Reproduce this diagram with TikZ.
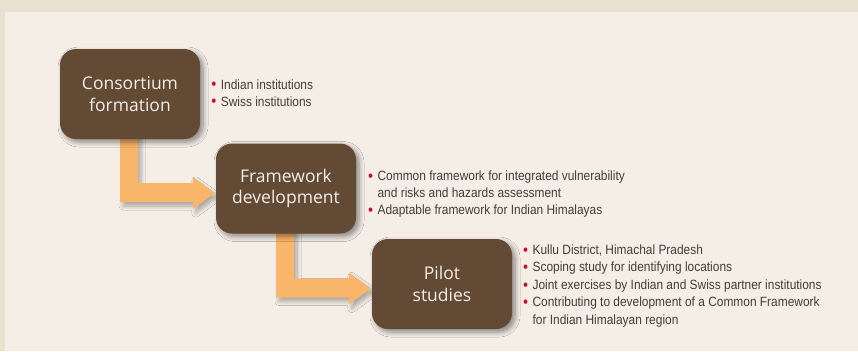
\documentclass[tikz,border=0pt]{standalone}
\usepackage{fontspec}
\setmainfont{Open Sans}
\newfontfamily\bulfont[FakeStretch=0.89]{Liberation Sans}
\usetikzlibrary{calc,shadows.blur}
\definecolor{outerbg}{HTML}{E9E1D0}
\definecolor{innerbg}{HTML}{F5EEE7}
\definecolor{boxc}{HTML}{634A35}
\definecolor{arrowc}{HTML}{F9B56A}
\definecolor{txtc}{HTML}{463C38}
\definecolor{bulc}{HTML}{C8102E}
\newcommand{\bul}{\makebox[9.5pt][l]{\textcolor{bulc}{\raisebox{-0.9pt}{\scalebox{1.2}{\textbullet}}}}}
\newcommand{\ind}{\hspace*{9.5pt}}
\tikzset{
  slot/.style={minimum width=140pt, minimum height=90pt, inner sep=0pt, draw=none},
  stage/.style={slot, rounded corners=16pt, fill=boxc, align=center, text=innerbg,
    font=\fontsize{17.5}{21.5}\selectfont,
    blur shadow={shadow xshift=3pt, shadow yshift=-3pt, shadow blur steps=8, shadow blur radius=5pt, shadow opacity=45}},
  item/.style={anchor=base west, inner sep=0pt, text=txtc,
    font=\bulfont\fontsize{13.4}{17}\selectfont},
  flow/.style={fill=arrowc,
    blur shadow={shadow xshift=3pt, shadow yshift=-4pt, shadow blur steps=8, shadow blur radius=4pt, shadow opacity=30}}
}
\newcommand{\flowarrow}[2]{%
  \path[flow] ($(#1.south)+(-10,-6)$) -- ($(#1.south)+(8,-6)$)
    |- ($(#2.west)+(-23,-5.5)$) -- ($(#2.west)+(-23,-11.5)$)
    -- ($(#2.west)+(-1,4.5)$) -- ($(#2.west)+(-23,20.5)$)
    -- ($(#2.west)+(-23,13.5)$) -| cycle;}
\begin{document}
\begin{tikzpicture}[x=1pt,y=-1pt]
\useasboundingbox (0,0) rectangle (858,351);
\fill[outerbg] (0,0) rectangle (858,351);
\fill[innerbg] (5,12) rectangle (858,351);

\node[slot] (b1) at (130,94) {};
\node[slot] (b2) at (286,188.5) {};
\node[slot] (b3) at (442,284) {};

\flowarrow{b1}{b2}
\flowarrow{b2}{b3}

\node[stage] (c1) at (b1.center) {Consortium\\formation};
\node[stage] (c2) at (b2.center) {Framework\\development};
\node[stage] (c3) at (b3.center) {Pilot\\studies};

\node[item] (t11) at (211.2,89) {\bul Indian institutions};
\node[item] (t12) at (211.2,106) {\bul Swiss institutions};

\node[item] (t21) at (367.9,180.7) {\bul Common framework for integrated vulnerability};
\node[item] (t22) at (367.9,197.5) {\ind and risks and hazards assessment};
\node[item] (t23) at (367.9,214.7) {\bul Adaptable framework for Indian Himalayas};

\node[item] (t31) at (522.9,254.3) {\bul Kullu District, Himachal Pradesh};
\node[item] (t32) at (522.9,271.7) {\bul Scoping study for identifying locations};
\node[item] (t33) at (522.9,289.1) {\bul Joint exercises by Indian and Swiss partner institutions};
\node[item] (t34) at (522.9,306.6) {\bul Contributing to development of a Common Framework};
\node[item] (t35) at (522.9,324.1) {\ind for Indian Himalayan region};
\end{tikzpicture}
\end{document}
